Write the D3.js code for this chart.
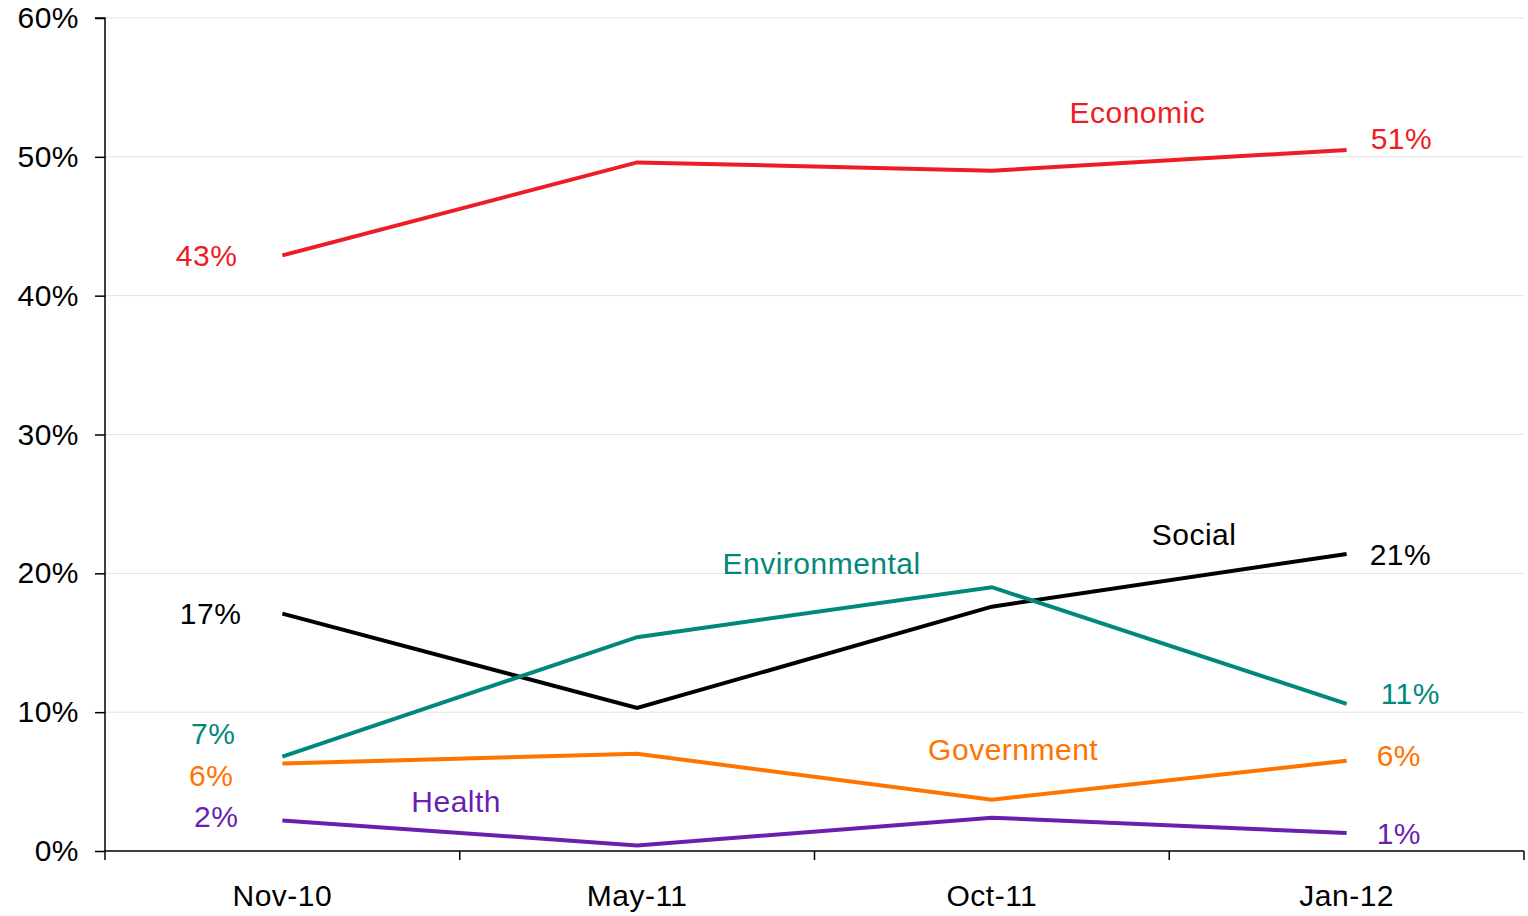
<!DOCTYPE html>
<html><head><meta charset="utf-8">
<script src="https://cdn.jsdelivr.net/npm/d3@7"></script>
<style>body{margin:0;background:#fff}text{font-family:"Liberation Sans",Arial,sans-serif;letter-spacing:0.5px}</style>
</head><body><svg id="c" width="1528" height="916"></svg>
<script>
const categories = ["Nov-10","May-11","Oct-11","Jan-12"];
const seriesNames = ["Economic","Social","Environmental","Government","Health"];
const economic = [42.9, 49.6, 49.0, 50.5];
const social = [17.1, 10.3, 17.6, 21.4];
const environmental = [6.8, 15.4, 19.0, 10.6];
const government = [6.3, 7.0, 3.7, 6.5];
const health = [2.2, 0.4, 2.4, 1.3];
const startLabels = ["43%","17%","7%","6%","2%"];
const endLabels = ["51%","21%","11%","6%","1%"];
const yTicks = [0,10,20,30,40,50,60];

const colors = ["#ee1c25","#000000","#00897b","#ff7300","#6a1fb0"];
const values = [economic, social, environmental, government, health];
const FS = 30;
// label placement (layout, in px offsets)
const startOff = [[-45,0],[-41,0],[-47,-23],[-49,12],[-44,-4]];
const endOff = [[24,-11],[23,1],[34,-10],[30,-5],[30,1]];
// series name label: [position along category axis (index units), level on y axis]
const namePos = [[2.41,53.2],[2.57,22.8],[1.52,20.7],[2.06,7.3],[0.49,3.6]];

const svg = d3.select("#c");
const m = {l:105, r:1524, t:18, b:851};
const x = d3.scaleBand().domain(categories).range([m.l, m.r]).paddingInner(0).paddingOuter(0);
const y = d3.scaleLinear().domain([0,60]).range([m.b, m.t]);
const cx = c => x(c) + x.bandwidth()/2;

svg.append("g").selectAll("line").data(yTicks.filter(d=>d>0)).join("line")
  .attr("x1", m.l).attr("x2", m.r).attr("y1", d=>y(d)).attr("y2", d=>y(d))
  .attr("stroke","#e3e3e3").attr("stroke-width",1);

const ya = svg.append("g").attr("transform",`translate(${m.l},0)`)
  .call(d3.axisLeft(y).tickValues(yTicks).tickFormat(d=>d+"%").tickSize(10).tickPadding(16));
ya.select(".domain").attr("stroke","#000").attr("stroke-width",1.5).attr("d",`M-10,${m.t}H0V${m.b}`);
ya.selectAll(".tick line").attr("stroke","#000").attr("stroke-width",1.5);
ya.selectAll(".tick text").attr("font-size",FS).attr("fill","#000").attr("font-family","Liberation Sans, Arial, sans-serif");

const xa = svg.append("g").attr("transform",`translate(0,${m.b})`)
  .call(d3.axisBottom(x).tickSize(0).tickPadding(34));
xa.select(".domain").attr("stroke","#000").attr("stroke-width",1.5).attr("d",`M${m.l},0H${m.r}`);
xa.selectAll(".tick text").attr("font-size",FS).attr("fill","#000").attr("font-family","Liberation Sans, Arial, sans-serif");
const bounds = categories.map(c=>x(c)).concat([m.r]);
xa.append("g").selectAll("line").data(bounds).join("line")
  .attr("x1",d=>d).attr("x2",d=>d).attr("y1",0).attr("y2",9).attr("stroke","#000").attr("stroke-width",1.5);

const line = d3.line().x((d,i)=>cx(categories[i])).y(d=>y(d));
values.forEach((vals,si)=>{
  svg.append("path").datum(vals).attr("d",line).attr("fill","none")
    .attr("stroke",colors[si]).attr("stroke-width",4);
  const n = vals.length-1;
  svg.append("text").attr("x", cx(categories[0])+startOff[si][0]).attr("y", y(vals[0])+startOff[si][1])
    .attr("text-anchor","end").attr("dominant-baseline","central").attr("font-size",FS).attr("fill",colors[si]).text(startLabels[si]);
  svg.append("text").attr("x", cx(categories[n])+endOff[si][0]).attr("y", y(vals[n])+endOff[si][1])
    .attr("text-anchor","start").attr("dominant-baseline","central").attr("font-size",FS).attr("fill",colors[si]).text(endLabels[si]);
  const p = namePos[si];
  svg.append("text").attr("x", cx(categories[0]) + p[0]*x.bandwidth()).attr("y", y(p[1]))
    .attr("text-anchor","middle").attr("dominant-baseline","central").attr("font-size",FS).attr("fill",colors[si]).text(seriesNames[si]);
});
</script></body></html>
